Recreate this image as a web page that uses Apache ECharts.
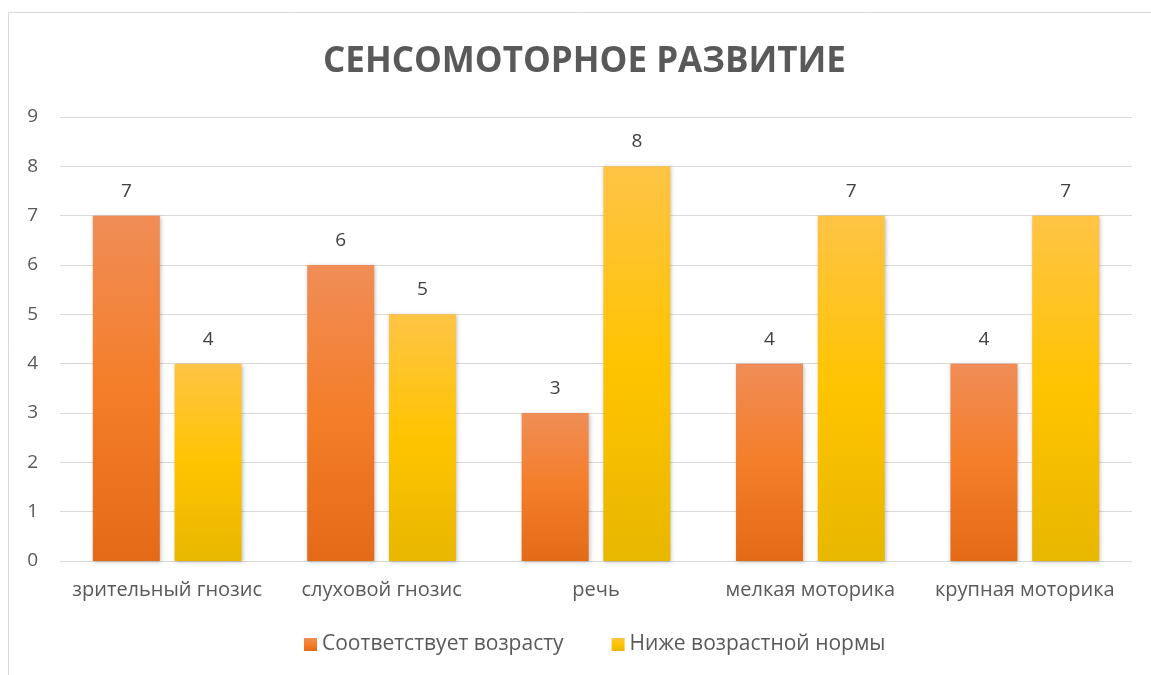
<!DOCTYPE html>
<html><head><meta charset="utf-8">
<script src="https://cdn.jsdelivr.net/npm/echarts@6/dist/echarts.min.js"></script>
<style>html,body{margin:0;padding:0;background:#fff}#c{width:1151px;height:675px}</style>
</head><body><div id="c"></div>
<script>
const categories = ['зрительный гнозис','слуховой гнозис','речь','мелкая моторика','крупная моторика'];
const seriesNames = ['Соответствует возрасту','Ниже возрастной нормы'];
const ageAppropriate = [7,6,3,4,4];
const belowNorm = [4,5,8,7,7];
const yTicks = {min:0,max:9,interval:1};

const font = '"Open Sans", "Noto Sans", sans-serif';
const orange = new echarts.graphic.LinearGradient(0,0,0,1,[
  {offset:0,color:'#F08D57'},{offset:0.5,color:'#F47E29'},{offset:1,color:'#E46A18'}]);
const yellow = new echarts.graphic.LinearGradient(0,0,0,1,[
  {offset:0,color:'#FFC445'},{offset:0.5,color:'#FFC400'},{offset:1,color:'#E8B700'}]);
const chart = echarts.init(document.getElementById('c'));
const barStyle = (c)=>({color:c,shadowColor:'rgba(0,0,0,0.25)',shadowBlur:4,shadowOffsetX:1,shadowOffsetY:1});
chart.setOption({
  animation:false,
  graphic:[{type:'rect',shape:{x:8.5,y:12.5,width:1200,height:700},style:{fill:'none',stroke:'#d9d9d9',lineWidth:1},z:-1}],
  title:{text:'СЕНСОМОТОРНОЕ РАЗВИТИЕ',left:318,top:40,
    textStyle:{fontFamily:font,fontWeight:'bold',fontSize:35,color:'#595959'}},
  legend:{bottom:15,left:299,itemWidth:13,itemHeight:13,itemGap:48,icon:'rect',
    textStyle:{fontFamily:font,fontSize:21,color:'#595959'},data:seriesNames},
  grid:{left:60,right:19,top:117,bottom:114,containLabel:false},
  xAxis:{type:'category',data:categories,
    axisLine:{lineStyle:{color:'#d9d9d9',width:1}},axisTick:{show:false},
    axisLabel:{interval:0,fontFamily:font,fontSize:20,color:'#595959',margin:19}},
  yAxis:{type:'value',min:yTicks.min,max:yTicks.max,interval:yTicks.interval,
    axisLine:{show:false},axisTick:{show:false},
    splitLine:{lineStyle:{color:'#d9d9d9',width:1}},
    axisLabel:{fontFamily:font,fontSize:19,color:'#595959',margin:22,align:'right'}},
  series:[
    {name:seriesNames[0],type:'bar',data:ageAppropriate,barWidth:67,barGap:'22%',
     itemStyle:barStyle(orange),
     label:{show:true,position:'top',distance:15,fontFamily:font,fontSize:19,color:'#404040'}},
    {name:seriesNames[1],type:'bar',data:belowNorm,barWidth:67,
     itemStyle:barStyle(yellow),
     label:{show:true,position:'top',distance:15,fontFamily:font,fontSize:19,color:'#404040'}}
  ]
});
</script></body></html>
